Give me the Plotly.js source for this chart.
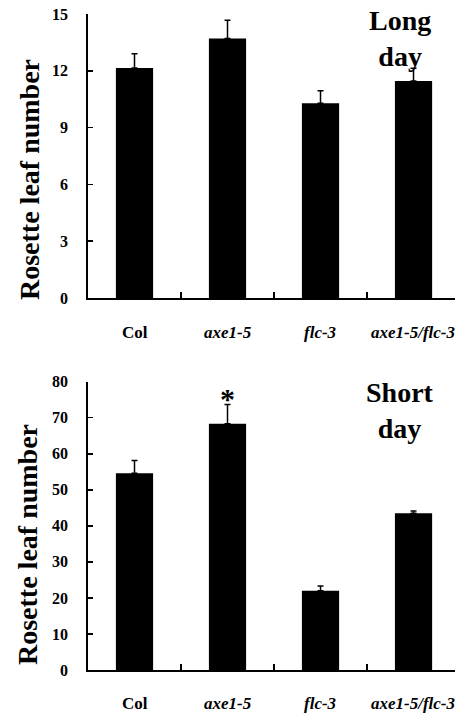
<!DOCTYPE html>
<html><head><meta charset="utf-8">
<script src="https://cdn.plot.ly/plotly-3.0.1.min.js"></script>
<style>html,body{margin:0;padding:0;background:#fff;}</style>
</head><body>
<div id="chart" style="width:455px;height:716px;"></div>
<script>
const categories = ['Col', 'axe1-5', 'flc-3', 'axe1-5/flc-3'];
const categoryLabels = ['<b>Col</b>', '<b><i>axe1-5</i></b>', '<b><i>flc-3</i></b>', '<b><i>axe1-5/flc-3</i></b>'];
const longDayValues = [12.15, 13.7, 10.28, 11.46];
const longDayErrors = [0.75, 0.97, 0.67, 0.67];
const shortDayValues = [54.6, 68.3, 22.0, 43.5];
const shortDayErrors = [3.5, 5.4, 1.3, 0.6];
const longDayTicks = [0, 3, 6, 9, 12, 15];
const shortDayTicks = [0, 10, 20, 30, 40, 50, 60, 70, 80];
const yTitle = 'Rosette leaf number';
const significantIndex = 1;

const xIdx = categories.map((c, i) => i);
const serif = 'Liberation Serif, Times New Roman, serif';

function barTrace(vals, errs, xa, ya) {
  return {
    type: 'bar', x: xIdx, y: vals, xaxis: xa, yaxis: ya, width: 0.4,
    marker: {color: '#000', line: {width: 0}},
    error_y: {type: 'data', symmetric: false, array: errs, arrayminus: errs.map(() => 0),
      color: '#000', thickness: 1.5, width: 3},
    hoverinfo: 'skip', showlegend: false
  };
}

const xCommon = {
  range: [-0.5, 3.446], showline: true, linecolor: '#000', linewidth: 1.8,
  tickvals: [0.5, 1.5, 2.5], ticktext: ['', '', ''], ticks: 'inside', ticklen: 6,
  tickwidth: 1.5, tickcolor: '#000', showgrid: false, zeroline: false, fixedrange: true
};
function yAxis(range, ticks, domain) {
  return {
    range: range, tickvals: ticks, ticktext: ticks.map(String), domain: domain,
    showline: true, linecolor: '#000', linewidth: 1.8, ticks: 'inside', ticklen: 5,
    tickwidth: 1.5, tickcolor: '#000', showgrid: false, zeroline: false,
    tickfont: {family: serif, size: 16, color: '#000', weight: 'bold'},
    ticklabelstandoff: 15,
    fixedrange: true
  };
}

const annotations = [];
[['x', 0.5363], ['x2', 0.018]].forEach(([xa, yp]) => {
  categoryLabels.forEach((lab, i) => {
    annotations.push({xref: xa, yref: 'paper', x: i, y: yp, text: lab, showarrow: false,
      font: {family: serif, size: 17, color: '#000'}, yanchor: 'middle', xanchor: 'center'});
  });
});
[[1 - 180/716, (29 - 88)/367], [1 - 545/716, (27 - 88)/367]].forEach(([yp, xp]) => {
  annotations.push({xref: 'paper', yref: 'paper', x: xp, y: yp, text: '<b>' + yTitle + '</b>',
    textangle: -90, showarrow: false, font: {family: serif, size: 28, color: '#000'},
    xanchor: 'center', yanchor: 'middle'});
});
annotations.push({xref: 'paper', yref: 'paper', x: 0.85, y: 1 - 38/716, text: '<b>Long<br>day</b>',
  showarrow: false, font: {family: serif, size: 28, color: '#000'}, xanchor: 'center', yanchor: 'middle'});
annotations.push({xref: 'paper', yref: 'paper', x: 0.85, y: 1 - 410/716, text: '<b>Short<br>day</b>',
  showarrow: false, font: {family: serif, size: 28, color: '#000'}, xanchor: 'center', yanchor: 'middle'});
annotations.push({xref: 'x2', yref: 'y2', x: significantIndex,
  y: shortDayValues[significantIndex] + shortDayErrors[significantIndex], text: '<b>*</b>',
  showarrow: false, font: {family: serif, size: 30, color: '#000'}, yanchor: 'bottom', yshift: -13});

const data = [
  barTrace(longDayValues, longDayErrors, 'x', 'y'),
  barTrace(shortDayValues, shortDayErrors, 'x2', 'y2')
];
const layout = {
  width: 455, height: 716, margin: {l: 88, r: 0, t: 0, b: 0},
  paper_bgcolor: '#fff', plot_bgcolor: '#fff', showlegend: false,
  xaxis: Object.assign({}, xCommon, {anchor: 'y'}),
  xaxis2: Object.assign({}, xCommon, {anchor: 'y2'}),
  yaxis: yAxis([0, 15], longDayTicks, [1 - 298/716, 1 - 14/716]),
  yaxis2: Object.assign(yAxis([0, 80], shortDayTicks, [1 - 670/716, 1 - 381.7/716]), {anchor: 'x2'}),
  annotations: annotations
};
layout.yaxis.anchor = 'x';
Plotly.newPlot('chart', data, layout, {displayModeBar: false, staticPlot: true});
</script>
</body></html>
